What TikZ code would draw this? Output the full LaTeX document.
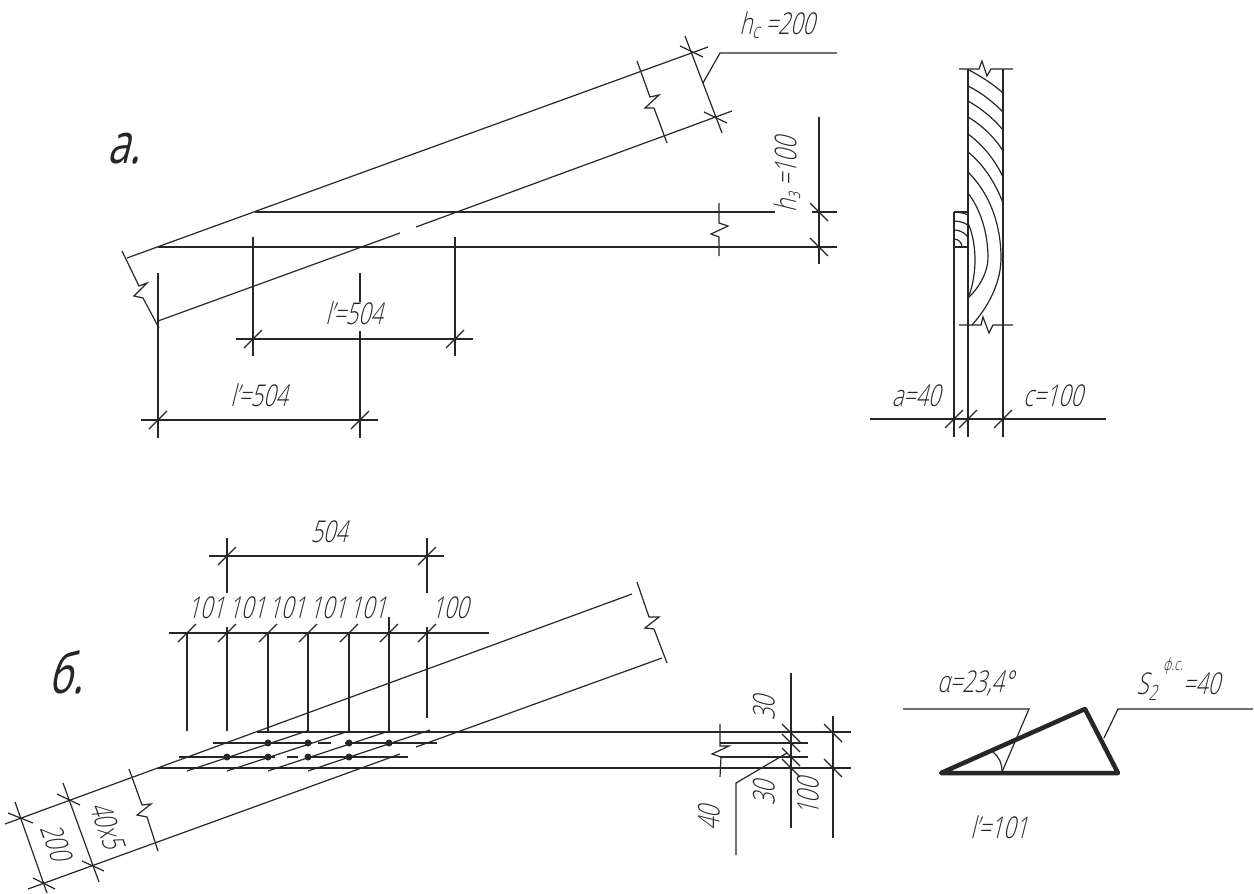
\documentclass[tikz,border=0pt]{standalone}
\usepackage{fontspec}
\setmainfont{Open Sans Light}[FakeStretch=0.72,FakeSlant=0.25]
\newfontfamily\markfont{Open Sans}[FakeStretch=0.72,FakeSlant=0.25]

\newcommand{\tickup}[1]{\draw #1 ++(-9,9) -- ++(18,-18);}
\newcommand{\tickdn}[1]{\draw #1 ++(-9,-9) -- ++(18,18);}

\tikzset{
    lbl/.style={inner sep=0pt, font=\fontsize{30}{32}\selectfont},
    panel/.style={inner sep=0pt, font=\markfont\fontsize{56}{60}\selectfont},
    heavy/.style={line width=4.5pt, line join=round, line cap=round},
    bolt/.style={circle, fill, inner sep=0pt, minimum size=7pt},
}

\begin{document}
\begin{tikzpicture}[x=1pt, y=-1pt, line width=1.2pt, color=black!85]
    \useasboundingbox (0,0) rectangle (1254,894);

    % Panel a: rafter
    \coordinate (Aup) at (127,258); \coordinate (AupEnd) at (708,47);
    \coordinate (Alo) at (158,321); \coordinate (AloEnd) at (732,111);
    \node[panel] (markA) at (124,149) {а.};
    \draw (Aup) -- (AupEnd);
    \draw (Alo) -- (400,233);
    \draw (416,227) -- (AloEnd);

    % Panel a: break lines
    \draw (122,251) -- (139,286) -- (147,283) -- (134,296) -- (143,298) -- (159,328);
    \draw (637,61) -- (650,97) -- (659,95) -- (645,108) -- (654,108) -- (667,143);
    \draw (719,203) -- (719,223) -- (728,226) -- (711,234) -- (719,237) -- (719,256);

    % Panel a: beam
    \draw (255,212) -- (775,212);
    \draw (812,212) -- (837,212);
    \draw (158,247) -- (837,247);

    % Panel a: rafter depth
    \draw (685,36) -- (722,133);
    \draw (703,83) -- (720,53) -- (837,53);
    \draw (680,46) -- (703,57);
    \draw (704,112) -- (727,123);
    \node[lbl] (hRafter) at (777,25) {h\textsubscript{с} =200};

    % Panel a: beam depth
    \draw (819,117) -- (819,264);
    \tickdn{(819,212)}
    \tickdn{(819,247)}
    \node[lbl, rotate=90] (hBeam) at (787,175) {h\textsubscript{з} =100};

    % Panel a: lengths
    \draw (253,237) -- (253,356);
    \draw (455,237) -- (455,356);
    \draw (236,339) -- (473,339);
    \tickup{(253,339)}
    \tickup{(455,339)}
    \node[lbl] (lenUp) at (354,313) {l'=504};

    \draw (158,273) -- (158,438);
    \draw (360,273) -- (360,302);
    \draw (360,331) -- (360,438);
    \draw (141,420) -- (378,420);
    \tickup{(158,420)}
    \tickup{(360,420)}
    \node[lbl] (lenLo) at (259,395) {l'=504};

    % Section
    \draw (968,69) -- (968,437);
    \draw (1003,69) -- (1003,437);
    \draw (954,212) -- (954,437);
    \draw (954,212) -- (968,212);
    \draw (954,247) -- (968,247);
    \draw (959,69) -- (979,69) -- (982,61) -- (987,76) -- (991,69) -- (1013,69);
    \draw (959,325) -- (981,325) -- (983,317) -- (989,333) -- (993,325) -- (1013,325);

    % Section: grain
    \draw (969,70) .. controls (982,77) and (993,84) .. (1003,93);
    \draw (968,86) .. controls (982,93) and (993,102) .. (1003,112);
    \draw (968,101) .. controls (982,109) and (994,119) .. (1003,130);
    \draw (968,117) .. controls (983,126) and (995,138) .. (1003,151);
    \draw (968,134) .. controls (983,145) and (995,160) .. (1003,177);
    \draw (968,152) .. controls (983,164) and (995,182) .. (1003,203);
    \draw (968,172) .. controls (992,196) and (1001,228) .. (1001,258)
        .. controls (1001,282) and (989,306) .. (972,325);
    \draw (968,193) .. controls (981,210) and (988,234) .. (988,258)
        .. controls (988,272) and (979,288) .. (968,298);
    \draw (968,223) .. controls (973,234) and (975,248) .. (975,260)
        .. controls (975,272) and (973,286) .. (968,298);
    \begin{scope}
        \clip (954,212) rectangle (968,247);
        \draw (954,247) circle (8);
        \draw (954,247) circle (17);
        \draw (954,247) circle (26);
        \draw (954,247) circle (35);
    \end{scope}

    % Section: sizes
    \draw (870,419) -- (1106,419);
    \tickup{(954,419)}
    \tickup{(968,419)}
    \tickup{(1003,419)}
    \node[lbl] (sizeA) at (916,396) {а=40};
    \node[lbl] (sizeC) at (1053,396) {с=100};

    % Panel b: rafter
    \coordinate (Bup) at (5,824); \coordinate (BupEnd) at (632,594);
    \coordinate (Blo) at (28,889); \coordinate (BloEnd) at (662,658);
    \node[panel] (markB) at (66,672) {б.};
    \draw (Bup) -- (BupEnd);
    \draw (Blo) -- (400,754);
    \draw (416,747) -- (BloEnd);
    \draw (129,769) -- (142,805) -- (151,804) -- (137,815) -- (147,817) -- (158,851);
    \draw (637,582) -- (649,617) -- (659,617) -- (645,628) -- (654,629) -- (667,663);

    % Panel b: beam
    \draw (257,732) -- (851,732);
    \draw (158,768) -- (851,768);
    \draw (720,724) -- (720,746) -- (729,746) -- (712,754) -- (721,757) -- (720,777);
    \draw (720,743) -- (808,743);
    \draw (720,757) -- (808,757);

    % Panel b: bolt rows
    \draw (213,743) -- (312,743);
    \draw (318,743) -- (331,743);
    \draw (345,743) -- (437,743);
    \draw (179,757) -- (275,757);
    \draw (287,757) -- (298,757);
    \draw (308,757) -- (408,757);
    \draw (187,771) -- (307,731);
    \draw (227,771) -- (349,731);
    \draw (268,771) -- (389,731);
    \draw (308,771) -- (430,730);
    \node[bolt] (b1) at (268,743) {};
    \node[bolt] (b2) at (308,743) {};
    \node[bolt] (b3) at (349,743) {};
    \node[bolt] (b4) at (389,743) {};
    \node[bolt] (b5) at (227,757) {};
    \node[bolt] (b6) at (268,757) {};
    \node[bolt] (b7) at (308,757) {};
    \node[bolt] (b8) at (349,757) {};

    % Panel b: bolt spacing
    \draw (209,556) -- (444,556);
    \draw (227,538) -- (227,593);
    \draw (427,538) -- (427,593);
    \tickup{(227,556)}
    \tickup{(427,556)}
    \node[lbl] (total) at (329,532) {504};

    \draw (169,633) -- (489,633);
    \draw (187,633) -- (187,731);
    \draw (227,627) -- (227,731);
    \draw (268,633) -- (268,732);
    \draw (308,633) -- (308,732);
    \draw (349,633) -- (349,732);
    \draw (389,617) -- (389,732);
    \draw (427,627) -- (427,718);
    \tickup{(187,633)}
    \tickup{(227,633)}
    \tickup{(268,633)}
    \tickup{(308,633)}
    \tickup{(349,633)}
    \tickup{(389,633)}
    \tickup{(427,633)}
    \node[lbl] (s1) at (206,608) {101};
    \node[lbl] (s2) at (247,608) {101};
    \node[lbl] (s3) at (287,608) {101};
    \node[lbl] (s4) at (328,608) {101};
    \node[lbl] (s5) at (368,608) {101};
    \node[lbl] (s6) at (450,608) {100};

    % Panel b: rafter depth
    \draw (15,802) -- (47,893);
    \draw (63,783) -- (99,882);
    \draw (8,813) -- (33,823);
    \draw (33,878) -- (55,889);
    \draw (57,794) -- (80,805);
    \draw (82,861) -- (104,871);
    \node[lbl, rotate=-70] (depth) at (56,842) {200};
    \node[lbl, rotate=-70] (plate) at (107,825) {40х5};

    % Panel b: beam depth
    \draw (791,673) -- (791,828);
    \draw (833,716) -- (833,838);
    \tickdn{(791,733)}
    \tickdn{(791,743)}
    \tickdn{(791,757)}
    \tickdn{(791,768)}
    \tickdn{(833,733)}
    \tickdn{(833,768)}
    \draw (736,855) -- (736,783) -- (787,753);
    \node[lbl, rotate=90] (gapUp) at (764,708) {30};
    \node[lbl, rotate=90] (gapLo) at (764,793) {30};
    \node[lbl, rotate=90] (beamH) at (808,797) {100};
    \node[lbl, rotate=90] (plateW) at (709,818) {40};

    % Weld triangle
    \coordinate (Tl) at (941,773);
    \coordinate (Tt) at (1085,709);
    \coordinate (Tr) at (1118,773);
    \draw[heavy] (Tl) -- (Tt) -- (Tr) -- cycle;
    \draw (903,709) -- (1029,709) -- (1002,772);
    \draw (993,752) to[bend left=25] (1002,772);
    \draw (1104,738) -- (1118,709) -- (1253,709);
    \node[lbl] (angle) at (975,684) {α=23,4°};
    \node[lbl, anchor=west] (weld) at (1136,679) {S\textsubscript{2} \raisebox{1.5ex}{\fontsize{17}{18}\selectfont ф.с.}=40};
    \node[lbl] (short) at (999,827) {l'=101};
\end{tikzpicture}
\end{document}
